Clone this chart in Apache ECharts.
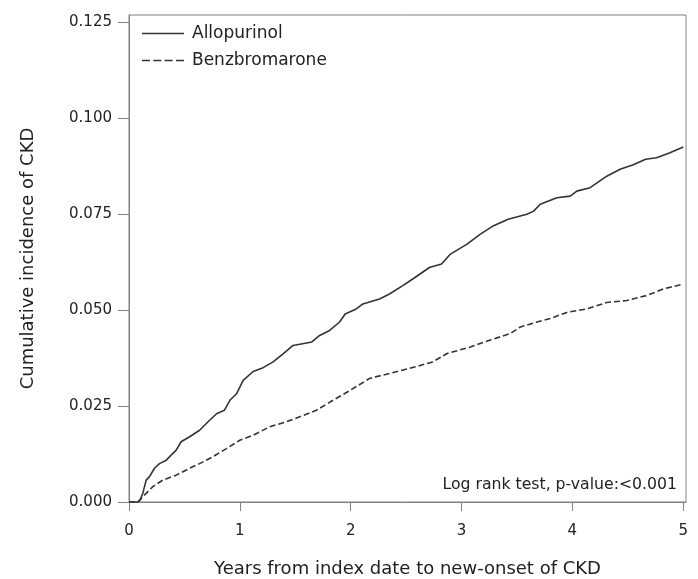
<!DOCTYPE html>
<html>
<head>
<meta charset="utf-8">
<script src="https://cdn.jsdelivr.net/npm/echarts@6/dist/echarts.min.js"></script>
<style>html,body{margin:0;padding:0;background:#fff}#c{width:698px;height:579px}</style>
</head>
<body>
<div id="c"></div>
<script>
// Allopurinol cumulative incidence [years, value]
const allopurinol = [
  [0,0],[0.08,0],[0.1,0.0005],[0.125,0.0023],[0.155,0.0057],[0.185,0.0066],[0.23,0.0088],
  [0.275,0.0100],[0.336,0.0109],[0.38,0.0122],[0.426,0.0135],[0.47,0.0157],[0.547,0.0170],
  [0.637,0.0187],[0.727,0.0213],[0.79,0.0230],[0.86,0.0239],[0.91,0.0265],[0.97,0.0282],
  [1.03,0.0317],[1.12,0.0340],[1.21,0.0350],[1.30,0.0365],[1.39,0.0386],[1.48,0.0408],
  [1.65,0.0417],[1.72,0.0434],[1.81,0.0447],[1.90,0.0469],[1.95,0.0490],[2.05,0.0503],
  [2.11,0.0516],[2.26,0.0529],[2.35,0.0542],[2.47,0.0564],[2.58,0.0585],[2.71,0.0611],
  [2.82,0.0620],[2.9,0.0646],[3.05,0.0672],[3.17,0.0698],[3.29,0.0720],[3.42,0.0737],
  [3.59,0.0750],[3.65,0.0758],[3.71,0.0776],[3.86,0.0793],[3.98,0.0797],[4.04,0.0810],
  [4.16,0.0819],[4.31,0.0849],[4.43,0.0867],[4.55,0.0879],[4.66,0.0893],[4.76,0.0897],
  [4.88,0.0910],[5.0,0.0925]
];
// Benzbromarone cumulative incidence [years, value]
const benzbromarone = [
  [0,0],[0.08,0],[0.125,0.0014],[0.215,0.0040],[0.305,0.0057],[0.426,0.0070],[0.547,0.0088],
  [0.637,0.0100],[0.757,0.0118],[0.878,0.0139],[1.0,0.0161],[1.12,0.0174],[1.27,0.0196],
  [1.42,0.0209],[1.54,0.0222],[1.69,0.0239],[1.84,0.0265],[1.99,0.0290],[2.17,0.0322],
  [2.35,0.0335],[2.53,0.0348],[2.74,0.0365],[2.87,0.0387],[3.08,0.0404],[3.26,0.0422],
  [3.44,0.0439],[3.53,0.0456],[3.68,0.0469],[3.80,0.0478],[3.95,0.0494],[4.13,0.0503],
  [4.31,0.0520],[4.49,0.0525],[4.67,0.0538],[4.82,0.0555],[5.0,0.0568]
];
const xTicks = [0,1,2,3,4,5];
const yTicks = [0,0.025,0.05,0.075,0.1,0.125];
const seriesNames = ['Allopurinol','Benzbromarone'];
const xTitle = 'Years from index date to new-onset of CKD';
const yTitle = 'Cumulative incidence of CKD';
const noteText = 'Log rank test, p-value:<0.001';

const FONT = 'DejaVu Sans';
const TXT = '#222';
const AX = '#808080';
const LINE = '#333';
const chart = echarts.init(document.getElementById('c'), null, {renderer:'canvas'});
chart.setOption({
  animation:false,
  backgroundColor:'#fff',
  grid:{left:129,right:12,top:15,bottom:77,show:true,borderColor:AX,borderWidth:1,
        backgroundColor:'transparent',outerBoundsMode:'none',containLabel:false},
  legend:{
    orient:'vertical', left:142, top:25, itemWidth:42, itemHeight:2, itemGap:10, padding:0,
    textStyle:{fontFamily:FONT,fontSize:17,color:TXT,padding:[0,0,0,3]},
    data:[
      {name:seriesNames[0],icon:'path://M0,0H42V1.5H0Z'},
      {name:seriesNames[1],icon:'path://M0,0H8V1.5H0ZM11.3,0H19.3V1.5H11.3ZM22.6,0H30.6V1.5H22.6ZM34,0H42V1.5H34Z'}
    ]
  },
  xAxis:{
    type:'value', min:0, max:5.025,
    name:xTitle, nameLocation:'middle', nameGap:58,
    nameTextStyle:{fontFamily:FONT,fontSize:18,color:TXT},
    axisLine:{show:true,onZero:false,lineStyle:{color:AX,width:1}},
    axisTick:{show:true,length:9,lineStyle:{color:AX},customValues:xTicks},
    axisLabel:{fontFamily:FONT,fontSize:15,color:TXT,margin:22,customValues:xTicks,formatter:v=>String(v)},
    splitLine:{show:false}
  },
  yAxis:{
    type:'value', min:0, max:0.1269,
    name:yTitle, nameLocation:'middle', nameGap:92, nameRotate:90,
    nameTextStyle:{fontFamily:FONT,fontSize:18,color:TXT},
    axisLine:{show:true,onZero:false,lineStyle:{color:AX,width:1}},
    axisTick:{show:true,length:11,lineStyle:{color:AX},customValues:yTicks},
    axisLabel:{fontFamily:FONT,fontSize:15,color:TXT,margin:17,customValues:yTicks,formatter:v=>v.toFixed(3)},
    splitLine:{show:false}
  },
  graphic:[{
    type:'text', right:21, top:477,
    style:{text:noteText,fontFamily:FONT,fontSize:15.7,fill:TXT}
  }],
  series:[
    {name:seriesNames[0],type:'line',data:allopurinol,symbol:'none',
     lineStyle:{color:LINE,width:1.6,type:'solid'},itemStyle:{color:LINE}},
    {name:seriesNames[1],type:'line',data:benzbromarone,symbol:'none',
     lineStyle:{color:LINE,width:1.6,type:[6,3]},itemStyle:{color:LINE}}
  ]
});
</script>
</body>
</html>
